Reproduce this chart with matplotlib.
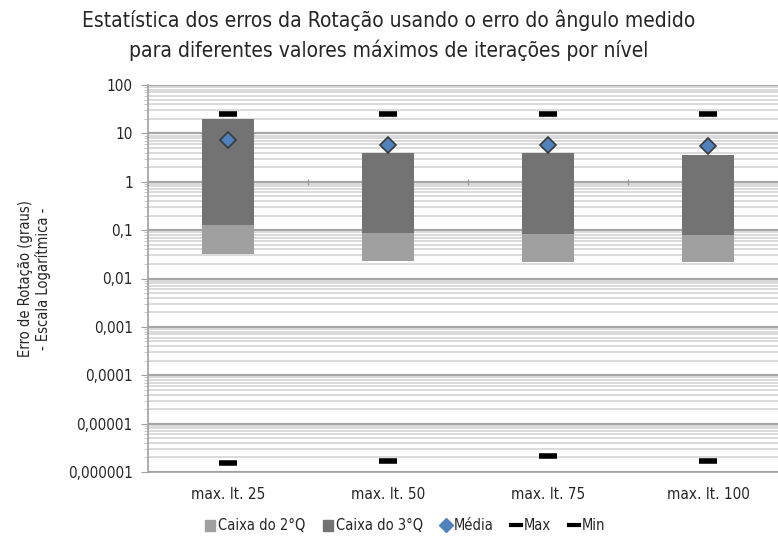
import numpy as np
import matplotlib
matplotlib.use("Agg")
import matplotlib.pyplot as plt
from matplotlib.lines import Line2D
from matplotlib.patches import Patch

plt.rcParams['font.family'] = ['DejaVu Sans']
plt.rcParams['font.stretch'] = 'condensed'

categorias = ["max. It. 25", "max. It. 50", "max. It. 75", "max. It. 100"]
q1 = [0.032, 0.0234, 0.0223, 0.0223]
mediana = [0.126, 0.0875, 0.083, 0.078]
q3 = [19.5, 4.0, 4.0, 3.6]
media = [7.2, 5.7, 5.7, 5.4]
maximo = [24.8, 24.8, 24.8, 24.8]
minimo = [1.5e-6, 1.7e-6, 2.1e-6, 1.7e-6]

cor_q2 = "#a0a0a0"
cor_q3 = "#737373"

fig = plt.figure(figsize=(7.78, 5.39), dpi=100)
ax = fig.add_axes([148/778, 1 - 472/539, 640/778, 387/539])

x = np.arange(len(categorias))
larg = 0.33

# caixas empilhadas: Q1 -> mediana -> Q3
ax.bar(x, np.array(mediana) - np.array(q1), bottom=q1, width=larg,
       color=cor_q2, zorder=3)
ax.bar(x, np.array(q3) - np.array(mediana), bottom=mediana, width=larg,
       color=cor_q3, zorder=3)

ax.plot(x, media, linestyle="none", marker="D", markersize=8.5,
        markerfacecolor="#4f81bd", markeredgecolor="#3a3a3a",
        markeredgewidth=1.2, zorder=5)
ax.plot(x, maximo, linestyle="none", marker="_", markersize=13,
        markeredgewidth=4, color="black", zorder=5)
ax.plot(x, minimo, linestyle="none", marker="_", markersize=13,
        markeredgewidth=4, color="black", zorder=5)

ax.set_yscale("log")
ax.set_ylim(1e-6, 100)
ax.set_xlim(-0.5, len(categorias) - 0.5)

decadas = [1e-6, 1e-5, 1e-4, 1e-3, 1e-2, 1e-1, 1, 10, 100]
rotulos = ["0,000001", "0,00001", "0,0001", "0,001", "0,01", "0,1", "1", "10", "100"]
ax.set_yticks(decadas)
ax.set_yticklabels(rotulos)
ax.yaxis.set_minor_locator(matplotlib.ticker.LogLocator(base=10, subs=np.arange(2, 10)))
ax.yaxis.set_minor_formatter(matplotlib.ticker.NullFormatter())

ax.grid(True, which="major", axis="y", color="#a6a6a6", linewidth=1.6, zorder=0)
ax.grid(True, which="minor", axis="y", color="#d4d4d4", linewidth=1.2, zorder=0)
ax.set_axisbelow(True)

ax.tick_params(axis="y", which="major", length=5, color="#a0a0a0",
               labelsize=11, pad=6, direction="out", labelcolor="#262626")
ax.tick_params(axis="y", which="minor", length=3, color="#c0c0c0")
ax.set_xticks(x)
ax.set_xticklabels(categorias)
ax.tick_params(axis="x", length=0, labelsize=11, pad=11, labelcolor="#262626")

for lado in ["top", "right"]:
    ax.spines[lado].set_visible(False)
ax.spines["left"].set_color("#a0a0a0")
ax.spines["bottom"].set_color("#a0a0a0")
ax.spines["left"].set_linewidth(1.2)
ax.spines["bottom"].set_linewidth(1.2)

# marcas do eixo horizontal que cruza em 1
ax.plot(x[:-1] + 0.5, [1] * (len(x) - 1), linestyle="none", marker="|",
        markersize=5, color="#a0a0a0", zorder=2)

ax.set_ylabel("Erro de Rotação (graus)\n- Escala Logarítmica -", fontsize=10.5,
              labelpad=12, color="#262626")

fig.suptitle("Estatística dos erros da Rotação usando o erro do ângulo medido\n"
             "para diferentes valores máximos de iterações por nível",
             fontsize=15, y=0.982, linespacing=1.45, color="#262626")

alcas = [
    Patch(color=cor_q2, label="Caixa do 2°Q"),
    Patch(color=cor_q3, label="Caixa do 3°Q"),
    Line2D([], [], linestyle="none", marker="D", markersize=7,
           markerfacecolor="#4f81bd", markeredgecolor="#4f81bd", label="Média"),
    Line2D([], [], color="black", linewidth=3, label="Max"),
    Line2D([], [], color="black", linewidth=3, label="Min"),
]
fig.legend(handles=alcas, loc="center", bbox_to_anchor=(405/778, 1 - 526/539),
           ncol=5, frameon=False, fontsize=10.5, handlelength=0.7,
           handletextpad=0.2, columnspacing=1.2, labelcolor="#262626")

fig.savefig("out.png", dpi=100)
